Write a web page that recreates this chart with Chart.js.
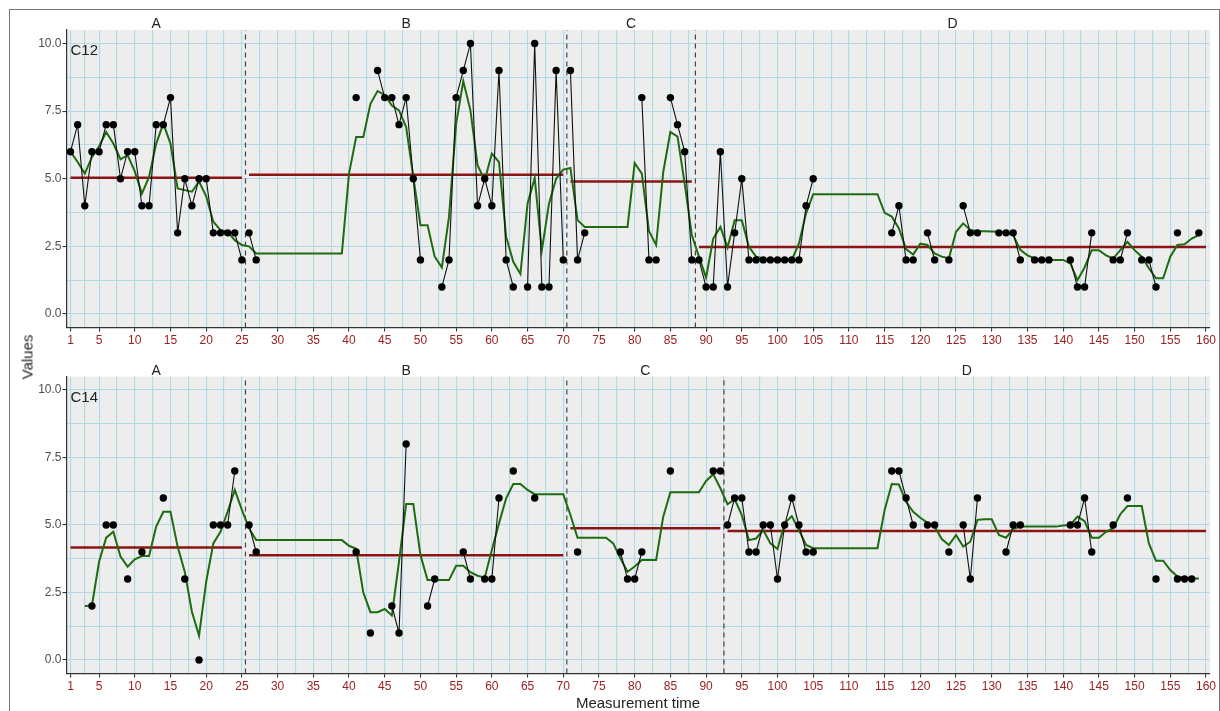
<!DOCTYPE html>
<html>
<head>
<meta charset="utf-8">
<script src="https://cdn.jsdelivr.net/npm/chart.js@4.4.1/dist/chart.umd.min.js"></script>
<style>
  html, body { margin: 0; padding: 0; background: #fff; }
  #wrap { position: relative; width: 1220px; height: 711px; overflow: hidden; background: #fff;
          font-family: "Liberation Sans", Arial, sans-serif; }
  #frame { position: absolute; left: 9px; top: 9px; width: 1209px; height: 760px; border: 1px solid #777; }
  canvas { position: absolute; left: 0; }
  #c12 { top: 0; }
  #c14 { top: 350px; }
  .ylab { position: absolute; left: 27px; top: 357px; transform: translate(-50%, -50%) rotate(-90deg);
          font-size: 15px; font-weight: normal; color: #222; }
  .xlab { position: absolute; left: 638px; top: 702px; transform: translate(-50%, -50%);
          font-size: 15px; color: #222; white-space: nowrap; }
</style>
</head>
<body>
<div id="wrap">
  <div id="frame"></div>
  <canvas id="c12" width="1220" height="352"></canvas>
  <canvas id="c14" width="1220" height="361"></canvas>
  <div class="ylab">Values</div>
  <div class="xlab">Measurement time</div>
</div>
<script>
// fases y etiquetas
const phaseNames = ['A', 'B', 'C', 'D'];
const xTickLabels = [1, 5, 10, 15, 20, 25, 30, 35, 40, 45, 50, 55, 60, 65, 70, 75, 80, 85, 90, 95, 100,
  105, 110, 115, 120, 125, 130, 135, 140, 145, 150, 155, 160];
const yTickLabels = [0, 2.5, 5, 7.5, 10];

// C12: valores observados, tiempo 1..160 (null = sin medida)
const c12Values = [
  6, 7, 4, 6, 6, 7, 7, 5, 6, 6,
  4, 4, 7, 7, 8, 3, 5, 4, 5, 5,
  3, 3, 3, 3, 2, 3, 2, null, null, null,
  null, null, null, null, null, null, null, null, null, null,
  8, null, null, 9, 8, 8, 7, 8, 5, 2,
  null, null, 1, 2, 8, 9, 10, 4, 5, 4,
  9, 2, 1, null, 1, 10, 1, 1, 9, 2,
  9, 2, 3, null, null, null, null, null, null, null,
  8, 2, 2, null, 8, 7, 6, 2, 2, 1,
  1, 6, 1, 3, 5, 2, 2, 2, 2, 2,
  2, 2, 2, 4, 5, null, null, null, null, null,
  null, null, null, null, null, 3, 4, 2, 2, null,
  3, 2, null, 2, null, 4, 3, 3, null, null,
  3, 3, 3, 2, null, 2, 2, 2, null, null,
  2, 1, 1, 3, null, null, 2, 2, 3, null,
  2, 2, 1, null, null, 3, null, null, 3, null
];
// C12: media suavizada (linea verde)
const c12Smooth = [
  6.0, 5.62, 5.19, 5.8, 6.2, 6.73, 6.3, 5.72, 5.87, 5.27,
  4.45, 5.07, 6.3, 7.04, 6.3, 4.64, 4.58, 4.52, 4.9, 4.35,
  3.41, 3.1, 3.04, 2.73, 2.55, 2.5, 2.24, 2.24, 2.24, 2.24,
  2.24, 2.24, 2.24, 2.24, 2.24, 2.24, 2.24, 2.24, 2.24, 5.19,
  6.54, 6.54, 7.77, 8.24, 8.1, 7.71, 7.53, 6.91, 5.07, 3.28,
  3.28, 2.12, 1.72, 3.59, 7.04, 8.61, 7.53, 5.5, 4.94, 5.93,
  5.62, 2.85, 1.93, 1.48, 4.08, 5.03, 2.36, 4.08, 5.0, 5.34,
  5.4, 3.47, 3.22, 3.22, 3.22, 3.22, 3.22, 3.22, 3.22, 5.58,
  5.19, 3.07, 2.55, 5.25, 6.73, 6.56, 4.82, 2.92, 2.12, 1.35,
  2.79, 3.22, 2.46, 3.47, 3.47, 2.48, 2.12, 2.05, 2.0, 2.0,
  2.0, 2.0, 2.61, 3.72, 4.43, 4.43, 4.43, 4.43, 4.43, 4.43,
  4.43, 4.43, 4.43, 4.43, 3.74, 3.6, 3.16, 2.4, 2.2, 2.6,
  2.55, 2.24, 2.12, 2.06, 3.04, 3.35, 3.1, 3.07, 3.06, 3.05,
  3.04, 3.0, 2.92, 2.37, 2.17, 2.05, 2.0, 2.0, 2.0, 2.0,
  1.87, 1.25, 1.72, 2.36, 2.36, 2.17, 2.05, 2.36, 2.67, 2.36,
  2.12, 1.69, 1.32, 1.32, 2.12, 2.55, 2.58, 2.79, 2.92, null
];
const c12Start = [1, 26, 71, 89];
const c12End = [25, 70, 88, 160];
const c12Means = [5.04, 5.15, 4.9, 2.48];

// C14
const c14Values = [
  null, null, null, 2, null, 5, 5, null, 3, null,
  4, null, null, 6, null, null, 3, null, 0, null,
  5, 5, 5, 7, null, 5, 4, null, null, null,
  null, null, null, null, null, null, null, null, null, null,
  4, null, 1, null, null, 2, 1, 8, null, null,
  2, 3, null, null, null, 4, 3, null, 3, 3,
  6, null, 7, null, null, 6, null, null, null, null,
  null, 4, null, null, null, null, null, 4, 3, 3,
  4, null, null, null, 7, null, null, null, null, null,
  7, 7, 5, 6, 6, 4, 4, 5, 5, 3,
  5, 6, 5, 4, 4, null, null, null, null, null,
  null, null, null, null, null, 7, 7, 6, 5, null,
  5, 5, null, 4, null, 5, 3, 6, null, null,
  null, 4, 5, 5, null, null, null, null, null, null,
  5, 5, 6, 4, null, null, 5, null, 6, null,
  null, null, 3, null, null, 3, 3, 3, null, null
];
const c14Smooth = [
  null, null, 2.0, 2.01, 3.64, 4.53, 4.75, 3.83, 3.46, 3.73,
  3.85, 3.85, 4.94, 5.49, 5.49, 4.2, 3.27, 1.79, 0.9, 2.9,
  4.32, 4.75, 5.49, 6.3, 5.56, 4.88, 4.44, 4.44, 4.44, 4.44,
  4.44, 4.44, 4.44, 4.44, 4.44, 4.44, 4.44, 4.44, 4.44, 4.23,
  4.12, 2.5, 1.77, 1.77, 1.89, 1.65, 3.64, 5.78, 5.78, 3.89,
  2.96, 2.96, 2.96, 2.96, 3.49, 3.49, 3.25, 3.12, 3.05, 4.07,
  5.06, 5.99, 6.52, 6.52, 6.3, 6.14, 6.14, 6.14, 6.14, 6.14,
  5.37, 4.53, 4.53, 4.53, 4.53, 4.53, 4.32, 3.77, 3.27, 3.46,
  3.7, 3.7, 3.7, 5.31, 6.21, 6.21, 6.21, 6.21, 6.21, 6.63,
  6.88, 6.36, 5.77, 5.96, 5.37, 4.44, 4.5, 4.81, 4.32, 4.11,
  5.06, 5.33, 4.81, 4.26, 4.14, 4.14, 4.14, 4.14, 4.14, 4.14,
  4.14, 4.14, 4.14, 4.14, 5.56, 6.52, 6.5, 5.86, 5.49, 5.27,
  5.08, 4.94, 4.48, 4.26, 4.63, 4.2, 4.38, 5.19, 5.21, 5.21,
  4.63, 4.53, 4.85, 4.94, 4.94, 4.94, 4.94, 4.94, 4.94, 4.98,
  5.0, 5.31, 5.14, 4.53, 4.53, 4.75, 4.88, 5.4, 5.7, 5.7,
  5.7, 4.32, 3.68, 3.68, 3.33, 3.09, 3.05, 3.02, 3.02, null
];
const c14Start = [1, 26, 71, 93];
const c14End = [25, 70, 92, 160];
const c14Means = [4.17, 3.88, 4.88, 4.78];

// lineas de la cuadricula: principales + intermedias
function withMinor(major) {
  const out = [];
  major.forEach((v, i) => {
    out.push(v);
    if (i < major.length - 1) out.push((v + major[i + 1]) / 2);
  });
  return out;
}
const xGrid = withMinor(xTickLabels);
const yGrid = withMinor(yTickLabels);

const GRID = '#b3d8e6';
const AXIS = '#333';

// fondo gris del panel
const panelBg = {
  id: 'panelBg',
  beforeDraw(chart) {
    const { ctx, chartArea: a } = chart;
    ctx.save();
    ctx.fillStyle = '#ededed';
    ctx.fillRect(a.left, a.top, a.right - a.left, a.bottom - a.top);
    ctx.restore();
  }
};

// textos de fase (A, B, C, D) y nombre del panel
const panelText = {
  id: 'panelText',
  afterDraw(chart, args, opts) {
    const { ctx, chartArea: a, scales } = chart;
    ctx.save();
    ctx.fillStyle = '#222';
    ctx.font = '14px "Liberation Sans", Arial, sans-serif';
    ctx.textAlign = 'center';
    ctx.textBaseline = 'middle';
    phaseNames.forEach((n, i) => {
      const mid = (opts.starts[i] + opts.ends[i]) / 2;
      ctx.fillText(n, scales.x.getPixelForValue(mid), a.top - 5.5);
    });
    ctx.font = '15px "Liberation Sans", Arial, sans-serif';
    ctx.textAlign = 'left';
    ctx.fillText(opts.name, a.left + 4, a.top + 21);
    ctx.restore();
  }
};

function makePanel(id, name, values, smooth, starts, ends, means, padTop, xAxisH) {
  const datasets = [];

  // observaciones por fase (puntos y lineas negras)
  starts.forEach((s, p) => {
    const pts = [];
    for (let t = s; t <= ends[p] && t <= values.length; t++) {
      pts.push({ x: t, y: values[t - 1] });
    }
    datasets.push({
      data: pts, borderColor: '#111', borderWidth: 1.1,
      pointRadius: 3.7, pointBackgroundColor: '#000', pointBorderWidth: 0,
      spanGaps: false
    });
  });

  // linea verde suavizada
  datasets.push({
    data: smooth.map((v, i) => ({ x: i + 1, y: v })),
    borderColor: '#1e6b10', borderWidth: 2, pointRadius: 0, spanGaps: false
  });

  // medias por fase
  means.forEach((m, p) => {
    datasets.push({
      data: [{ x: starts[p], y: m }, { x: ends[p], y: m }],
      borderColor: '#8b1515', borderWidth: 2.5, pointRadius: 0
    });
  });

  // separadores de fase (discontinuos)
  starts.slice(1).forEach(s => {
    datasets.push({
      data: [{ x: s - 0.5, y: -0.5 }, { x: s - 0.5, y: 10.5 }],
      borderColor: '#444', borderWidth: 1.2, borderDash: [5, 4], pointRadius: 0
    });
  });

  return new Chart(document.getElementById(id), {
    type: 'line',
    data: { datasets },
    options: {
      responsive: false,
      animation: false,
      events: [],
      layout: { padding: { top: padTop, right: 10, left: 0, bottom: 0 } },
      plugins: {
        legend: { display: false },
        tooltip: { enabled: false },
        panelText: { name, starts, ends }
      },
      scales: {
        x: {
          type: 'linear', min: 0.44, max: 160.56,
          afterBuildTicks: axis => { axis.ticks = xGrid.map(v => ({ value: v })); },
          afterFit: s => { s.height = xAxisH; },
          ticks: {
            autoSkip: false, maxRotation: 0, minRotation: 0, padding: 2,
            color: '#9b2020', font: { size: 12, family: '"Liberation Sans", Arial, sans-serif' },
            callback: v => xTickLabels.includes(v) ? String(v) : ''
          },
          grid: {
            color: GRID, lineWidth: 1.1, tickLength: 4,
            tickColor: c => (c.tick && xTickLabels.includes(c.tick.value)) ? AXIS : 'rgba(0,0,0,0)'
          },
          border: { display: true, color: AXIS, width: 1.2 }
        },
        y: {
          type: 'linear', min: -0.5, max: 10.5,
          afterBuildTicks: axis => { axis.ticks = yGrid.map(v => ({ value: v })); },
          afterFit: s => { s.width = 66.5; },
          ticks: {
            padding: 1, color: '#4d4d4d', font: { size: 12, family: '"Liberation Sans", Arial, sans-serif' },
            callback: v => yTickLabels.includes(v) ? v.toFixed(1) : ''
          },
          grid: {
            color: GRID, lineWidth: 1.1, tickLength: 4,
            tickColor: c => (c.tick && yTickLabels.includes(c.tick.value)) ? AXIS : 'rgba(0,0,0,0)'
          },
          border: { display: true, color: AXIS, width: 1.2 }
        }
      }
    },
    plugins: [panelBg, panelText]
  });
}

makePanel('c12', 'C12', c12Values, c12Smooth, c12Start, c12End, c12Means, 30, 24.5);
makePanel('c14', 'C14', c14Values, c14Smooth, c14Start, c14End, c14Means, 26.5, 37.5);
</script>
</body>
</html>
